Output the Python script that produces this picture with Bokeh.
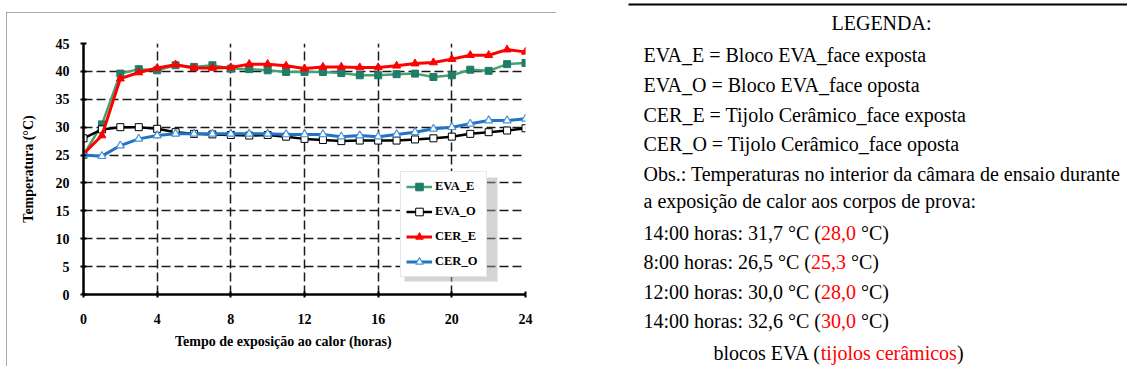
from bokeh.plotting import figure
from bokeh.layouts import row
from bokeh.models import (Range1d, Legend, LegendItem, BoxAnnotation, FixedTicker)
from bokeh.embed import file_html
from bokeh.resources import INLINE
from bokeh.core.properties import value

# ---------------- data ----------------
hours = list(range(25))
eva_e = [25.0, 30.5, 39.6, 40.4, 40.2, 41.1, 40.8, 41.1, 40.5, 40.4, 40.2, 39.9, 39.9,
         39.9, 39.7, 39.3, 39.3, 39.5, 39.6, 39.0, 39.3, 40.3, 40.1, 41.3, 41.5]
eva_o = [28.0, 29.6, 30.0, 30.0, 29.7, 29.1, 28.8, 28.7, 28.6, 28.5, 28.6, 28.3, 27.9,
         27.7, 27.5, 27.6, 27.6, 27.6, 27.8, 28.0, 28.3, 28.8, 29.1, 29.4, 29.8]
cer_e = [25.2, 28.5, 38.7, 39.8, 40.6, 41.2, 40.6, 40.6, 40.7, 41.3, 41.3, 41.0, 40.5,
         40.8, 40.8, 40.7, 40.7, 41.0, 41.4, 41.6, 42.2, 42.9, 42.9, 43.9, 43.5]
cer_o = [25.0, 24.8, 26.7, 27.9, 28.5, 28.8, 28.8, 28.8, 28.8, 28.8, 28.8, 28.7, 28.7,
         28.7, 28.3, 28.5, 28.3, 28.7, 29.1, 29.7, 30.0, 30.6, 31.2, 31.2, 31.5]
series_names = ["EVA_E", "EVA_O", "CER_E", "CER_O"]
x_ticks = [0, 4, 8, 12, 16, 20, 24]
y_ticks = [0, 5, 10, 15, 20, 25, 30, 35, 40, 45]
x_title = "Tempo de exposição ao calor (horas)"
y_title = "Temperatura (°C)"

legend_title = "LEGENDA:"
legend_lines = ["EVA_E = Bloco EVA_face exposta",
                "EVA_O = Bloco EVA_face oposta",
                "CER_E = Tijolo Cerâmico_face exposta",
                "CER_O = Tijolo Cerâmico_face oposta",
                "Obs.: Temperaturas no interior da câmara de ensaio durante",
                "a exposição de calor aos corpos de prova:"]
temp_prefix = ["14:00 horas: 31,7 °C (", "8:00 horas: 26,5 °C (",
               "12:00 horas: 30,0 °C (", "14:00 horas: 32,6 °C ("]
temp_red = ["28,0", "25,3", "28,0", "30,0"]
temp_suffix = ["\u00a0°C)", "\u00a0°C)", "\u00a0°C)", "\u00a0°C)"]
foot_parts = ["blocos EVA (", "tijolos cerâmicos", ")"]

SERIF = "Liberation Serif"

# ---------------- chart (left panel) ----------------
BX0, BY0, BX1, BY1 = 6, 12, 556, 366     # grey chart box (page px)
FL, FR, FT, FB = 83, 525, 43, 294        # plot frame (page px)
WL, HL = BX1 - BX0, BY1 - BY0
BT, BB = FT - BY0, BY1 - FB              # top / bottom borders of the chart

p = figure(width=WL, height=HL, x_range=Range1d(0, 24), y_range=Range1d(0, 45),
           title=None, output_backend="svg", toolbar_location=None,
           min_border_left=FL - BX0, min_border_right=BX1 - FR,
           min_border_top=BT, min_border_bottom=BB,
           margin=(BY0, 0, 0, BX0),
           styles={"outline": "1px solid #8c8c8c", "outline-offset": "-1px"})
p.outline_line_color = None
p.background_fill_color = "white"
p.border_fill_color = "white"

for g in (p.xgrid, p.ygrid):
    g.grid_line_color = "#1a1a1a"
    g.grid_line_width = 1.5
    g.grid_line_dash = "9 4"
p.xgrid.ticker = FixedTicker(ticks=x_ticks)
p.ygrid.ticker = FixedTicker(ticks=y_ticks)

p.xaxis.ticker = FixedTicker(ticks=x_ticks)
p.yaxis.ticker = FixedTicker(ticks=y_ticks)
for ax in (p.xaxis[0], p.yaxis[0]):
    ax.axis_line_width = 2.5
    ax.axis_line_color = "black"
    ax.major_tick_in = 3
    ax.major_tick_out = 3
    ax.major_tick_line_width = 2
    ax.minor_tick_line_color = None
    ax.major_label_text_font = SERIF
    ax.major_label_text_font_style = "bold"
    ax.major_label_text_font_size = "14px"
    ax.major_label_text_color = "black"
    ax.axis_label_text_font = SERIF
    ax.axis_label_text_font_style = "bold"
    ax.axis_label_text_font_size = "14px"
    ax.axis_label_text_color = "black"
p.xaxis.major_label_standoff = 16
p.yaxis.major_label_standoff = 11
p.yaxis.axis_label = y_title
p.yaxis.axis_label_standoff = 17
# trailing no-break spaces shift the centred title left, as in the reference
p.xaxis.axis_label = x_title + "\u00a0" * 12
p.xaxis.axis_label_standoff = 7

l1 = p.line(hours, eva_e, line_color="#45a072", line_width=2.5)
s1 = p.scatter(hours, eva_e, marker="square", size=7, fill_color="#1f7d68",
               line_color="#1f7d68")
l2 = p.line(hours, eva_o, line_color="black", line_width=2.5)
s2 = p.scatter(hours, eva_o, marker="square", size=7, fill_color="white",
               line_color="black", line_width=1)
l3 = p.line(hours, cer_e, line_color="#ff0000", line_width=3)
s3 = p.scatter(hours, cer_e, marker="triangle", size=8, fill_color="#ff0000",
               line_color="#ff0000")
l4 = p.line(hours, cer_o, line_color="#1f74c8", line_width=3)
s4 = p.scatter(hours, cer_o, marker="triangle", size=8, fill_color="white",
               line_color="#4a90d9", line_width=1.2)

# legend (page px ~400..493 x 175..277) with a soft shadow
LG_L, LG_B = 400, 277


def xd(px):
    return (px - FL) / (FR - FL) * 24.0


def yd(py):
    return (FB - py) / (FB - FT) * 45.0


p.add_layout(BoxAnnotation(left=xd(LG_L + 4), right=xd(LG_L + 97), top=yd(LG_B - 100),
                           bottom=yd(LG_B + 4), fill_color="#a0a0a0", fill_alpha=0.45,
                           line_color=None))
legend = Legend(items=[LegendItem(label=series_names[0], renderers=[l1, s1]),
                       LegendItem(label=series_names[1], renderers=[l2, s2]),
                       LegendItem(label=series_names[2], renderers=[l3, s3]),
                       LegendItem(label=series_names[3], renderers=[l4, s4])],
                location=(LG_L - FL, FB - LG_B), orientation="vertical")
legend.border_line_color = "#d0d0d0"
legend.background_fill_color = "white"
legend.background_fill_alpha = 1
legend.padding = 5
legend.spacing = 6
legend.margin = 0
legend.label_height = 19
legend.glyph_height = 19
legend.glyph_width = 26
legend.label_width = 46
legend.label_standoff = 3
legend.label_text_font = SERIF
legend.label_text_font_style = "bold"
legend.label_text_font_size = "12.5px"
legend.label_text_color = "black"
p.add_layout(legend)

# ---------------- text (right panel) ----------------
# plots in a row share border sizes, so this panel gets the same top/bottom
# borders as the chart; negative margins put its frame over the full page height
RX0 = BX1
WR = 1127 - RX0
PH = 385
q = figure(width=WR, height=PH + BT + BB, x_range=Range1d(RX0, 1127),
           y_range=Range1d(PH, 0), title=None, output_backend="svg",
           toolbar_location=None, x_axis_type=None, y_axis_type=None,
           min_border_left=0, min_border_right=0,
           min_border_top=BT, min_border_bottom=BB, margin=(-BT, 0, -BB, 0))
q.outline_line_color = None
q.background_fill_color = "white"
q.border_fill_color = "white"

q.segment(x0=[628], y0=[4], x1=[1127], y1=[4], line_color="black", line_width=2)

FS = 20
TW = {"0": 500, "1": 500, "2": 500, "3": 500, "4": 500, "5": 500, "6": 500, "7": 500,
      "8": 500, "9": 500, ":": 278, " ": 250, ",": 250, ".": 250, "(": 333, ")": 333,
      "°": 400, "C": 667, "E": 611, "V": 722, "A": 722, "a": 444, "b": 500, "c": 444,
      "e": 444, "h": 500, "i": 278, "j": 278, "l": 278, "m": 778, "o": 500, "r": 333,
      "s": 389, "t": 278, "â": 444}
KERN = {"VA": -135}


def tw(s):
    w = sum(TW.get(ch, 500) for ch in s)
    w += sum(KERN.get(s[i:i + 2], 0) for i in range(len(s) - 1))
    return w / 1000.0 * FS


tx, ty, tt, tc, ta = [], [], [], [], []
DY = -6


def add(px, py, s, color="black", align="left"):
    tx.append(px); ty.append(py + DY); tt.append(s); tc.append(color); ta.append(align)


X0 = 643
add(881, 28.5, legend_title, align="center")
for s, yy in zip(legend_lines, [60.5, 90.5, 120.5, 149.5, 179, 206.5]):
    add(X0, yy, s)
for a, r, b, yy in zip(temp_prefix, temp_red, temp_suffix, [238, 267, 297, 326]):
    add(X0, yy, a)
    add(X0 + tw(a), yy, r, color="#ff0000")
    add(X0 + tw(a) + tw(r), yy, b)
fx = 713
add(fx, 358, foot_parts[0])
add(fx + tw(foot_parts[0]), 358, foot_parts[1], color="#ff0000")
add(fx + tw(foot_parts[0]) + tw(foot_parts[1]), 358, foot_parts[2])

q.text(x=tx, y=ty, text=tt, text_color=tc, text_align=ta, text_baseline="alphabetic",
       text_font=value(SERIF), text_font_size=value(f"{FS}px"))

layout = row(p, q, spacing=0)
open("out.html", "w").write(file_html(layout, INLINE))
